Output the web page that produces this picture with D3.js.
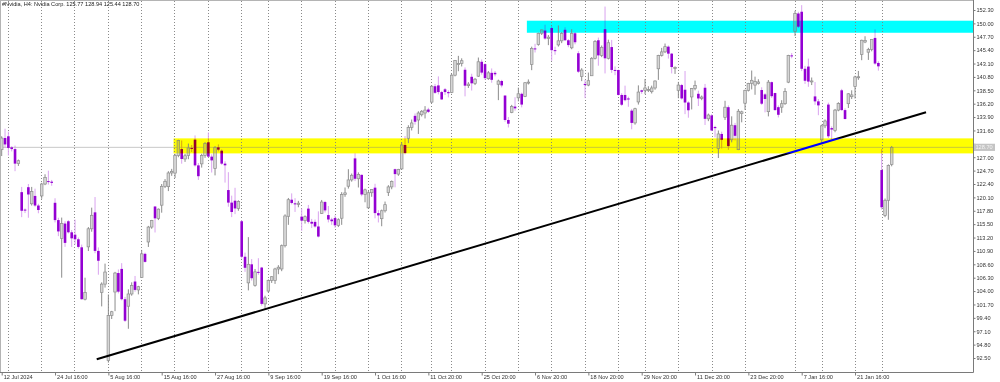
<!DOCTYPE html>
<html>
<head>
<meta charset="utf-8">
<script src="https://cdn.jsdelivr.net/npm/d3@7"></script>
<style>
  body { margin: 0; background: #ffffff; }
</style>
</head>
<body>
<div id="chart"></div>
<script>
// #Nvidia H4 candles, 12 Jul 2024 - 28 Jan 2025 (one row = 10 bars)
var opens = [
  128.3, 130.3, 130.6, 128.7, 128.4, 125.9, 121.0, 118.0, 121.85, 119.0,
  120.35, 118.7, 120.35, 122.4, 122.9, 122.8, 119.17, 116.2, 113.04, 115.6,
  116.0, 114.1, 113.69, 112.9, 111.52, 102.6, 111.6, 114.7, 117.53, 110.9,
  103.76, 105.2, 92.06, 99.8, 103.84, 107.1, 107.81, 102.6, 101.4, 103.5,
  105.64, 104.2, 106.32, 110.4, 112.44, 115.0, 118.53, 116.5, 118.76, 122.0,
  121.94, 124.3, 124.28, 127.3, 128.4, 126.7, 127.32, 128.6, 130.02, 125.6,
  125.86, 127.3, 129.57, 127.1, 125.05, 128.7, 128.12, 125.9, 121.36, 119.2,
  119.53, 118.2, 116.0, 109.9, 105.41, 108.6, 104.99, 107.3, 108.04, 101.8,
  104.0, 105.8, 105.8, 107.8, 107.8, 111.8, 116.85, 119.7, 119.08, 118.9,
  116.79, 116.1, 118.17, 115.9, 115.89, 115.1, 117.35, 119.3, 117.06, 116.3,
  116.55, 115.3, 116.52, 120.6, 122.02, 123.1, 126.8, 123.3, 123.97, 120.6,
  118.31, 120.9, 121.77, 117.4, 116.44, 117.8, 120.92, 121.9, 124.94, 124.1,
  124.99, 129.1, 130.26, 132.1, 134.11, 133.4, 134.3, 134.6, 135.2, 136.47,
  139.2, 139.34, 138.2, 138.67, 138.2, 138.13, 141.1, 142.91, 143.1, 142.03,
  139.3, 140.82, 139.7, 140.93, 143.4, 143.0, 140.5, 141.5, 141.5, 139.54,
  140.1, 137.6, 133.4, 134.7, 135.7, 137.21, 137.9, 137.45, 139.8, 142.96,
  145.7, 146.39, 148.3, 148.77, 147.4, 149.2, 145.4, 146.3, 147.0, 148.9,
  147.1, 145.8, 148.3, 144.87, 140.9, 139.6, 139.4, 141.0, 144.0, 147.1,
  144.5, 149.0, 144.0, 145.93, 142.0, 141.99, 137.7, 137.7, 137.1, 135.01,
  132.9, 136.5, 138.5, 138.5, 138.5, 138.26, 138.9, 142.2, 144.5, 145.11,
  146.0, 144.8, 142.4, 138.5, 139.4, 138.6, 136.4, 137.36, 138.8, 137.9,
  137.1, 138.94, 133.6, 134.18, 132.2, 128.5, 131.0, 133.86, 135.6, 130.0,
  132.5, 128.3, 134.5, 136.28, 138.5, 139.7, 139.4, 139.7, 138.55, 137.8,
  134.83, 139.9, 138.03, 135.6, 135.6, 136.2, 139.9, 144.5, 148.59, 151.7,
  152.0, 142.2, 142.58, 140.0, 137.45, 136.6, 129.99, 132.4, 136.05, 132.0,
  131.6, 135.1, 138.5, 135.1, 136.2, 137.4, 139.16, 140.8, 144.66, 146.8,
  145.05, 145.5, 147.5, 143.2, 124.8, 117.0, 119.6, 125.77
];
var highs = [
  130.6, 131.9, 131.4, 128.9, 129.0, 126.6, 121.9, 118.2, 122.4, 121.9,
  121.6, 119.0, 122.6, 124.07, 124.69, 123.1, 119.95, 116.6, 116.63, 116.0,
  116.2, 114.5, 116.28, 113.2, 111.99, 106.3, 115.0, 118.34, 120.16, 111.5,
  105.5, 108.72, 103.41, 100.6, 107.3, 107.71, 108.8, 103.0, 104.3, 105.5,
  106.6, 104.9, 111.07, 110.6, 115.2, 116.23, 118.6, 118.2, 122.4, 123.24,
  124.6, 125.0, 127.6, 130.0, 129.88, 127.6, 129.35, 129.1, 130.75, 126.0,
  127.6, 129.6, 131.26, 127.5, 128.9, 129.2, 128.33, 126.3, 124.43, 120.4,
  121.75, 119.6, 116.2, 110.6, 113.27, 109.5, 107.8, 109.65, 108.15, 103.2,
  106.0, 106.55, 108.0, 108.45, 112.0, 117.19, 120.0, 120.79, 119.96, 119.5,
  118.18, 117.0, 118.8, 116.4, 116.3, 117.7, 119.66, 119.5, 118.62, 116.6,
  116.99, 116.5, 121.0, 121.8, 124.94, 124.2, 127.67, 124.4, 124.03, 121.6,
  121.2, 121.5, 122.44, 117.9, 118.0, 119.38, 122.2, 123.0, 125.04, 125.0,
  129.6, 130.64, 132.5, 133.48, 134.52, 134.9, 135.1, 135.78, 135.5, 139.4,
  139.6, 140.89, 138.4, 138.9, 138.5, 141.3, 143.71, 144.42, 144.0, 142.43,
  139.9, 141.35, 140.6, 144.13, 143.8, 143.14, 141.8, 142.26, 141.8, 140.33,
  140.3, 137.61, 133.9, 136.0, 137.31, 138.96, 138.1, 139.9, 140.37, 146.0,
  146.49, 148.4, 148.93, 149.77, 148.0, 149.5, 146.0, 149.65, 148.5, 149.33,
  147.3, 149.0, 148.5, 145.24, 142.3, 140.3, 141.55, 144.2, 147.13, 147.56,
  146.2, 152.89, 147.2, 147.16, 142.6, 142.05, 138.0, 139.3, 137.4, 135.3,
  135.5, 139.35, 138.6, 140.45, 139.2, 139.3, 140.2, 144.6, 145.79, 146.54,
  146.2, 144.9, 142.6, 139.95, 139.6, 141.82, 136.6, 138.9, 140.17, 138.44,
  137.6, 139.6, 134.5, 134.4, 132.4, 131.59, 131.4, 136.7, 135.9, 134.03,
  132.9, 135.28, 135.0, 138.6, 139.79, 141.9, 140.85, 140.4, 139.02, 138.0,
  140.27, 140.0, 138.07, 135.9, 136.8, 138.88, 144.6, 144.9, 152.16, 152.0,
  153.13, 142.7, 143.95, 140.7, 139.92, 137.0, 132.6, 133.49, 136.38, 132.3,
  135.3, 136.45, 138.75, 135.4, 138.0, 138.5, 141.0, 141.83, 147.2, 147.79,
  145.8, 147.23, 148.97, 143.5, 128.4, 119.9, 125.77, 128.94
];
var lows = [
  127.2, 128.6, 127.3, 128.0, 124.6, 125.5, 116.7, 117.4, 116.6, 118.7,
  118.5, 117.37, 119.86, 122.2, 122.3, 122.1, 115.8, 113.44, 106.3, 111.6,
  113.9, 111.58, 112.0, 111.3, 102.54, 102.4, 110.88, 114.2, 110.5, 106.81,
  101.37, 104.6, 91.7, 99.2, 100.55, 103.6, 102.4, 98.69, 97.52, 103.2,
  103.9, 103.43, 106.26, 108.9, 111.58, 114.7, 114.07, 116.2, 117.47, 121.7,
  121.18, 123.8, 123.42, 127.0, 125.89, 126.2, 126.66, 127.9, 125.4, 123.1,
  125.22, 126.9, 127.0, 124.37, 123.88, 128.0, 125.7, 122.64, 118.5, 116.71,
  117.22, 117.8, 109.6, 107.3, 104.12, 105.8, 104.76, 106.8, 101.5, 100.95,
  103.69, 105.4, 105.23, 106.9, 107.42, 111.5, 115.38, 118.9, 117.6, 118.4,
  114.36, 115.6, 115.6, 114.83, 114.9, 113.22, 117.25, 117.5, 115.8, 115.39,
  114.86, 115.0, 115.38, 120.2, 121.61, 122.8, 122.9, 121.8, 120.3, 119.26,
  118.15, 120.2, 116.5, 115.79, 115.14, 117.5, 120.34, 121.5, 121.83, 123.8,
  124.95, 127.5, 129.42, 131.6, 132.6, 131.0, 134.0, 133.66, 134.6, 136.3,
  137.9, 137.8, 136.87, 137.7, 137.28, 138.0, 140.9, 141.78, 142.6, 137.46,
  138.9, 138.46, 139.4, 140.8, 141.2, 140.3, 140.3, 139.8, 140.9, 136.81,
  139.0, 133.1, 132.11, 134.57, 135.0, 136.6, 135.57, 137.33, 139.5, 141.96,
  145.0, 146.17, 148.0, 147.2, 146.26, 143.57, 144.6, 146.01, 146.6, 147.0,
  145.9, 145.55, 146.4, 141.5, 140.08, 137.15, 139.2, 140.99, 143.8, 142.73,
  144.2, 141.4, 143.8, 141.5, 141.1, 137.6, 135.82, 136.6, 135.67, 131.8,
  132.6, 136.05, 137.9, 137.82, 138.2, 137.95, 138.6, 140.29, 144.3, 144.9,
  143.95, 141.4, 141.31, 137.13, 136.9, 134.4, 133.79, 135.21, 138.5, 135.8,
  136.8, 132.54, 133.2, 131.5, 130.42, 126.86, 128.5, 133.4, 128.28, 129.55,
  129.9, 128.22, 133.0, 135.12, 138.3, 138.65, 137.73, 139.5, 136.0, 134.71,
  134.02, 137.2, 135.0, 133.83, 134.63, 136.0, 139.73, 144.0, 147.82, 149.2,
  141.8, 139.6, 139.1, 139.4, 136.0, 134.22, 129.51, 132.0, 130.3, 130.05,
  131.29, 134.9, 135.0, 133.49, 135.46, 137.0, 137.09, 140.3, 143.67, 146.6,
  143.72, 145.2, 142.9, 141.88, 118.0, 116.7, 116.25, 125.44
];
var closes = [
  130.3, 129.2, 128.6, 128.4, 125.9, 126.4, 117.8, 117.9, 120.6, 121.1,
  118.7, 117.93, 122.4, 123.54, 122.8, 122.59, 116.2, 114.25, 115.6, 112.28,
  114.1, 113.06, 112.9, 111.59, 102.6, 103.73, 114.7, 117.02, 110.9, 109.21,
  105.2, 107.27, 99.8, 100.45, 107.1, 103.9, 102.6, 98.91, 103.5, 104.97,
  104.2, 104.75, 110.4, 109.02, 115.0, 116.14, 116.5, 118.08, 122.0, 122.86,
  124.3, 124.58, 127.3, 129.9, 126.7, 127.25, 128.6, 128.5, 125.6, 123.74,
  127.3, 129.37, 127.1, 126.46, 128.7, 128.3, 125.9, 125.61, 119.2, 117.59,
  118.2, 119.37, 109.9, 108.0, 108.6, 106.21, 107.3, 107.21, 101.8, 102.83,
  105.8, 106.47, 107.8, 108.1, 111.8, 116.91, 119.7, 119.14, 118.9, 119.1,
  116.1, 116.78, 115.9, 115.59, 115.1, 113.37, 119.3, 117.87, 116.3, 116.0,
  115.3, 116.26, 120.6, 120.87, 123.1, 123.9, 123.3, 124.04, 120.6, 121.4,
  120.9, 121.44, 117.4, 117.0, 117.8, 118.85, 121.9, 122.85, 124.1, 124.92,
  129.1, 127.72, 132.1, 132.89, 133.1, 134.6, 134.9, 135.1, 134.8, 139.2,
  138.07, 138.2, 136.93, 138.2, 138.0, 141.1, 143.6, 143.1, 143.59, 139.3,
  139.56, 139.7, 140.41, 143.4, 141.54, 140.6, 141.5, 140.3, 141.25, 140.1,
  139.34, 133.4, 132.76, 135.7, 135.4, 137.9, 136.05, 139.8, 139.91, 145.7,
  145.61, 148.3, 148.88, 147.4, 147.63, 145.4, 145.26, 147.0, 148.29, 147.1,
  146.27, 148.3, 146.76, 141.7, 141.98, 139.4, 140.15, 144.0, 146.9, 144.5,
  145.89, 144.0, 146.67, 142.0, 141.95, 137.7, 136.02, 136.8, 136.92, 132.9,
  135.34, 138.2, 138.25, 138.9, 138.63, 138.9, 140.1, 144.5, 145.1, 146.0,
  144.8, 142.5, 142.44, 139.4, 137.1, 136.4, 135.07, 138.8, 139.31, 137.1,
  137.34, 133.6, 134.25, 131.6, 132.0, 131.0, 130.0, 135.6, 128.91, 132.5,
  130.68, 134.9, 134.8, 138.5, 139.67, 140.22, 140.0, 139.93, 136.2, 137.01,
  139.9, 137.49, 135.1, 134.29, 136.2, 138.31, 144.5, 144.47, 151.7, 149.43,
  142.2, 140.14, 140.0, 140.11, 136.6, 135.91, 132.4, 133.23, 130.6, 131.76,
  135.1, 136.24, 135.1, 133.57, 137.9, 137.71, 140.8, 140.83, 147.1, 147.07,
  145.5, 147.22, 143.1, 142.62, 118.4, 119.6, 125.6, 128.7
];

var title = "#Nvidia, H4:  Nvidia Corp.  125.77 128.94 125.44 128.70";

var timeBars = [0, 16, 32, 48, 64, 80, 96, 112, 128, 144, 160, 176, 192, 208, 224, 240, 256];
var timeLabels = ["12 Jul 2024", "24 Jul 16:00", "5 Aug 16:00", "15 Aug 16:00", "27 Aug 16:00",
  "9 Sep 16:00", "19 Sep 16:00", "1 Oct 16:00", "11 Oct 20:00", "25 Oct 20:00", "6 Nov 20:00",
  "18 Nov 20:00", "29 Nov 20:00", "11 Dec 20:00", "23 Dec 20:00", "7 Jan 16:00", "21 Jan 16:00"];

var priceTicks = [152.30, 150.00, 147.70, 145.40, 143.10, 140.80, 138.50, 136.20, 133.90,
  131.60, 129.30, 127.00, 124.70, 122.40, 120.10, 117.80, 115.50, 113.20, 110.90, 108.60,
  106.30, 104.00, 101.70, 99.40, 97.10, 94.80, 92.50];

// week separators (bar index)
var gridBars = [1.8, 11.8, 21.8, 31.8, 41.8, 51.8, 61.8, 71.8, 79.8, 89.9, 99.9, 109.9, 119.9,
  128.9, 134.9, 144.9, 154.9, 164.9, 174.9, 184.9, 193, 203, 213, 223, 238, 246, 256, 264];

// zones: start bar, low, high
var zoneStart = [52, 158];
var zoneLow = [127.66, 148.39];
var zoneHigh = [130.24, 150.46];

// support line
var trendBars = [28.5, 277.3];
var trendPrices = [92.28, 134.72];

var lastPrice = 128.70;

(function() {
  var width = 1000, height = 382,
      plotRight = 973, plotBottom = 372;

  var svg = d3.select("#chart")
    .append("svg")
    .attr("width", width)
    .attr("height", height)
    .style("font-family", "'Liberation Sans', Arial, sans-serif");

  svg.append("rect")
    .attr("width", width)
    .attr("height", height)
    .attr("fill", "#ffffff");

  var x = d3.scaleLinear().domain([0, 291]).range([1.7, 971.7]);
  var y = d3.scaleLinear().domain([92.5, 152.3]).range([358, 10]);

  var bars = d3.range(opens.length).map(function(i) {
    return { i: i, o: opens[i], h: highs[i], l: lows[i], c: closes[i] };
  });

  // dotted vertical grid
  svg.append("g")
    .selectAll("line")
    .data(gridBars)
    .enter().append("line")
    .attr("x1", function(d) { return Math.round(x(d)) + 0.5; })
    .attr("x2", function(d) { return Math.round(x(d)) + 0.5; })
    .attr("y1", 1)
    .attr("y2", plotBottom)
    .attr("stroke", "#8a8a8a")
    .attr("stroke-dasharray", "1,2");

  // last price line
  svg.append("line")
    .attr("x1", 0)
    .attr("x2", plotRight)
    .attr("y1", y(lastPrice))
    .attr("y2", y(lastPrice))
    .attr("stroke", "#c8c8c8")
    .attr("stroke-width", 1);

  // wicks
  svg.append("g")
    .selectAll("line")
    .data(bars)
    .enter().append("line")
    .attr("x1", function(d) { return x(d.i); })
    .attr("x2", function(d) { return x(d.i); })
    .attr("y1", function(d) { return y(d.h); })
    .attr("y2", function(d) { return y(d.l); })
    .attr("stroke", function(d) { return d.c >= d.o ? "#8c8c8c" : "#d9a3ef"; })
    .attr("stroke-width", 1);

  // bodies
  svg.append("g")
    .selectAll("rect")
    .data(bars)
    .enter().append("rect")
    .attr("x", function(d) { return x(d.i) - 1.3; })
    .attr("width", 2.6)
    .attr("y", function(d) { return y(Math.max(d.o, d.c)); })
    .attr("height", function(d) { return Math.max(1, Math.abs(y(d.o) - y(d.c))); })
    .attr("fill", function(d) { return d.c >= d.o ? "#d6d6d6" : "#9400d3"; })
    .attr("stroke", function(d) { return d.c >= d.o ? "#8e8e8e" : "none"; })
    .attr("stroke-width", 0.7);

  // trend line
  svg.append("line")
    .attr("x1", x(trendBars[0]))
    .attr("y1", y(trendPrices[0]))
    .attr("x2", x(trendBars[1]))
    .attr("y2", y(trendPrices[1]))
    .attr("stroke", "#000000")
    .attr("stroke-width", 2);

  // zones, mixed like the terminal does (xor-ish)
  var zoneColors = ["#0000ff", "#ff0000"];
  svg.append("g")
    .selectAll("rect")
    .data(zoneStart)
    .enter().append("rect")
    .attr("x", function(d) { return x(d) - 1.5; })
    .attr("width", function(d) { return plotRight - x(d) + 1.5; })
    .attr("y", function(d, i) { return y(zoneHigh[i]); })
    .attr("height", function(d, i) { return y(zoneLow[i]) - y(zoneHigh[i]); })
    .attr("fill", function(d, i) { return zoneColors[i]; })
    .style("mix-blend-mode", "difference");

  // frame
  svg.append("line")
    .attr("x1", 0).attr("x2", plotRight)
    .attr("y1", 0.5).attr("y2", 0.5)
    .attr("stroke", "#b4b4b4");
  svg.append("line")
    .attr("x1", 0.5).attr("x2", 0.5)
    .attr("y1", 0).attr("y2", plotBottom)
    .attr("stroke", "#b4b4b4");
  svg.append("line")
    .attr("x1", plotRight + 0.5).attr("x2", plotRight + 0.5)
    .attr("y1", 0).attr("y2", plotBottom + 0.5)
    .attr("stroke", "#7a7a7a");
  svg.append("line")
    .attr("x1", 0).attr("x2", plotRight + 0.5)
    .attr("y1", plotBottom + 0.5).attr("y2", plotBottom + 0.5)
    .attr("stroke", "#7a7a7a");

  // price axis; the label under the last-price box stays hidden, as on the terminal
  var yAxis = d3.axisRight(y)
    .tickValues(priceTicks)
    .tickSize(2)
    .tickPadding(1)
    .tickFormat(function(d) {
      return Math.abs(y(d) - y(lastPrice)) < 7 ? "" : d3.format(".2f")(d);
    });
  var yg = svg.append("g")
    .attr("class", "y-axis")
    .attr("transform", "translate(" + (plotRight + 0.5) + ",0)")
    .call(yAxis);
  yg.select(".domain").remove();
  yg.selectAll("line").attr("stroke", "#7a7a7a");
  yg.selectAll("text")
    .attr("fill", "#333333")
    .style("font-size", "5.6px");

  // time axis
  var xAxis = d3.axisBottom(x)
    .tickValues(timeBars)
    .tickSize(3)
    .tickPadding(0)
    .tickFormat(function(d, i) { return timeLabels[i]; });
  var xg = svg.append("g")
    .attr("class", "x-axis")
    .attr("transform", "translate(0," + (plotBottom + 0.5) + ")")
    .call(xAxis);
  xg.select(".domain").remove();
  xg.selectAll("line").attr("stroke", "#7a7a7a");
  xg.selectAll("text")
    .attr("text-anchor", "start")
    .attr("x", 1.5)
    .attr("fill", "#333333")
    .style("font-size", "5.6px");

  // last price label
  svg.append("rect")
    .attr("x", plotRight + 1)
    .attr("y", y(lastPrice) - 3.6)
    .attr("width", 21)
    .attr("height", 7.2)
    .attr("fill", "#c4c4c4");
  svg.append("text")
    .attr("x", plotRight + 2.5)
    .attr("y", y(lastPrice))
    .attr("dy", "0.34em")
    .attr("fill", "#f4f4f4")
    .style("font-size", "5.6px")
    .text(lastPrice.toFixed(2));

  // title
  svg.append("text")
    .attr("x", 2)
    .attr("y", 6.4)
    .attr("fill", "#222222")
    .style("font-size", "5.6px")
    .text(title);
})();
</script>
</body>
</html>
